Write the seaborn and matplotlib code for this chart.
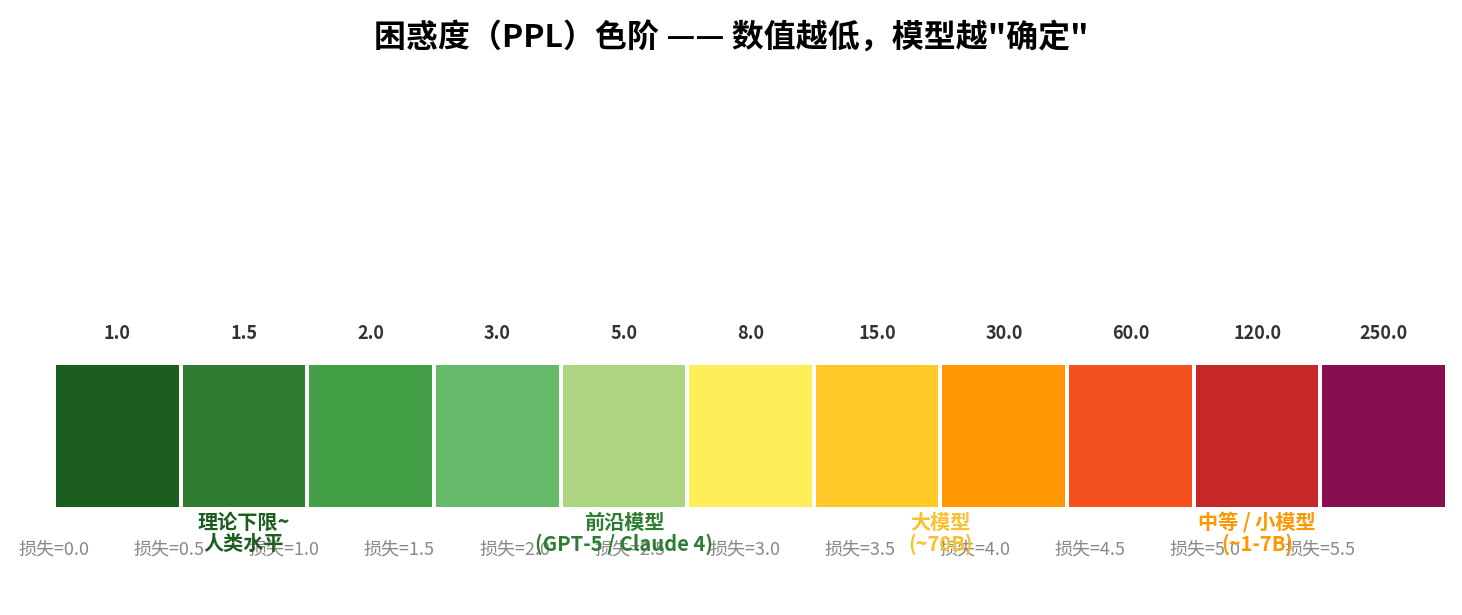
import numpy as np
import pandas as pd
import matplotlib
matplotlib.use('Agg')
import matplotlib.pyplot as plt
from matplotlib.colors import ListedColormap
import seaborn as sns

ppl_values = [1.0, 1.5, 2.0, 3.0, 5.0, 8.0, 15.0, 30.0, 60.0, 120.0, 250.0]
cell_colors = ['#1b5e20', '#2e7d32', '#43a047', '#66bb6a', '#aed581', '#ffee58',
               '#ffca28', '#ff9800', '#f4511e', '#c62828', '#880e4f']
loss_values = [0.0, 0.5, 1.0, 1.5, 2.0, 2.5, 3.0, 3.5, 4.0, 4.5, 5.0, 5.5]
note_pos = [1.5, 4.5, 7.0, 9.5]
note_text = ['理论下限~\n人类水平', '前沿模型\n(GPT-5 / Claude 4)', '大模型\n(~70B)', '中等 / 小模型\n(~1-7B)']
note_colors = ['#1b5e20', '#2e7d32', '#fbc02d', '#ff9800']

sns.set_style('white')
plt.rcParams['font.family'] = ['Noto Sans CJK SC', 'DejaVu Sans']

fig = plt.figure(figsize=(14.62, 6.15), dpi=100)
ax = fig.add_axes([54 / 1462, 106 / 615, 1393 / 1462, 146 / 615])

data = pd.DataFrame([np.arange(len(ppl_values))])
sns.heatmap(data, cmap=ListedColormap(cell_colors), cbar=False, linewidths=1.5,
            linecolor='white', xticklabels=False, yticklabels=False, ax=ax)

# PPL labels above cells
for i, v in enumerate(ppl_values):
    ax.text(i + 0.5, -0.2, f'{v:.1f}', ha='center', va='center', fontsize=13,
            fontweight='bold', color='#333333', clip_on=False)

# loss scale below
n = len(ppl_values) - 1
for l in loss_values:
    ax.text(l / loss_values[-1] * n, 1.28, f'损失={l:.1f}', ha='center', va='center',
            fontsize=13, color='#888888', clip_on=False)

# model region notes
for x, t, c in zip(note_pos, note_text, note_colors):
    ax.text(x, 1.02, t, ha='center', va='top', fontsize=14.5, fontweight='bold',
            color=c, linespacing=1.0, clip_on=False)

for s in ax.spines.values():
    s.set_visible(False)

fig.suptitle('困惑度（PPL）色阶 —— 数值越低，模型越"确定"', fontsize=23,
             fontweight='bold', color='black', y=0.965)

fig.savefig('out.png', dpi=100)
